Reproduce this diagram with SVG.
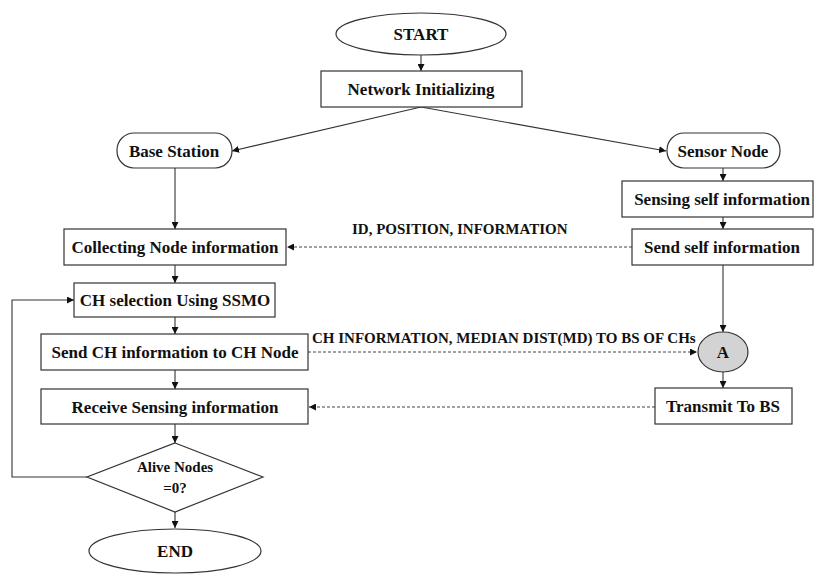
<svg xmlns="http://www.w3.org/2000/svg" width="814" height="574" viewBox="0 0 814 574">
<style>
.box{fill:#fff;stroke:#333;stroke-width:1.2}
.t{font-family:"Liberation Serif",serif;font-size:17px;font-weight:bold;fill:#111;text-anchor:middle;dominant-baseline:central}
.s{font-size:15px}
.l{font-family:"Liberation Serif",serif;font-size:15px;font-weight:bold;fill:#111}
.c{fill:none;stroke:#333;stroke-width:1.1}
.d{fill:none;stroke:#444;stroke-width:1;stroke-dasharray:3,2}
</style>
<defs>
<marker id="ah" viewBox="0 0 10 10" refX="10" refY="5" markerWidth="7" markerHeight="7" markerUnits="userSpaceOnUse" orient="auto">
<path d="M0,0 L10,5 L0,10 z" fill="#111"/>
</marker>
</defs>
<rect width="814" height="574" fill="#fff"/>
<g id="connectors">
<path class="c" d="M421,55 V71" marker-end="url(#ah)"/>
<path class="c" d="M421,107 L232,151" marker-end="url(#ah)"/>
<path class="c" d="M421,107 L666,151" marker-end="url(#ah)"/>
<path class="c" d="M175,168 V229" marker-end="url(#ah)"/>
<path class="c" d="M175,265 V283" marker-end="url(#ah)"/>
<path class="c" d="M175,317 V334" marker-end="url(#ah)"/>
<path class="c" d="M175,370 V389" marker-end="url(#ah)"/>
<path class="c" d="M175,424 V443" marker-end="url(#ah)"/>
<path class="c" d="M175,512 V528" marker-end="url(#ah)"/>
<path class="c" d="M87,477 H12 V300 H74" marker-end="url(#ah)"/>
<path class="c" d="M723,168 V181" marker-end="url(#ah)"/>
<path class="c" d="M723,217 V229" marker-end="url(#ah)"/>
<path class="c" d="M723,265 V332" marker-end="url(#ah)"/>
<path class="c" d="M723,372 V388" marker-end="url(#ah)"/>
<path class="d" d="M632,247 H287" marker-end="url(#ah)"/>
<path class="d" d="M308,352 H697" marker-end="url(#ah)"/>
<path class="d" d="M655,407 H309" marker-end="url(#ah)"/>
<text class="l" x="352" y="234">ID, POSITION, INFORMATION</text>
<text class="l" x="312" y="343">CH INFORMATION, MEDIAN DIST(MD) TO BS OF CHs</text>
</g>
<g id="start"><ellipse class="box" cx="421" cy="34" rx="85" ry="21"/><text class="t" x="421" y="34">START</text></g>
<g id="network-init"><rect class="box" x="321" y="71" width="201" height="36"/><text class="t" x="421" y="89">Network Initializing</text></g>
<g id="base-station"><rect class="box" x="117" y="133" width="115" height="35" rx="17"/><text class="t" x="174" y="151">Base Station</text></g>
<g id="sensor-node"><rect class="box" x="667" y="133" width="113" height="35" rx="17"/><text class="t" x="723" y="151">Sensor Node</text></g>
<g id="sensing-self"><rect class="box" x="622" y="181" width="191" height="36"/><text class="t" x="722" y="199">Sensing self information</text></g>
<g id="send-self"><rect class="box" x="632" y="229" width="181" height="36"/><text class="t" x="722" y="247">Send self information</text></g>
<g id="collecting"><rect class="box" x="64" y="229" width="222" height="36"/><text class="t" x="175" y="247">Collecting Node information</text></g>
<g id="ch-selection"><rect class="box" x="74" y="283" width="201" height="34"/><text class="t" x="175" y="300">CH selection Using SSMO</text></g>
<g id="send-ch"><rect class="box" x="41" y="334" width="267" height="36"/><text class="t" x="175" y="352">Send CH information to CH Node</text></g>
<g id="receive"><rect class="box" x="41" y="389" width="267" height="35"/><text class="t" x="175" y="407">Receive Sensing information</text></g>
<g id="a-node"><ellipse cx="723" cy="352" rx="25" ry="20" fill="#d3d3d3" stroke="#333" stroke-width="1.2"/><text class="t" x="723" y="352">A</text></g>
<g id="transmit"><rect class="box" x="655" y="388" width="137" height="36"/><text class="t" x="723" y="406">Transmit To BS</text></g>
<g id="alive"><polygon class="box" points="175,443 263,477 175,512 87,477"/><text class="t s" x="175" y="467">Alive Nodes</text><text class="t s" x="175" y="488">=0?</text></g>
<g id="end"><ellipse class="box" cx="175" cy="551" rx="86" ry="22"/><text class="t" x="175" y="551">END</text></g>
</svg>
